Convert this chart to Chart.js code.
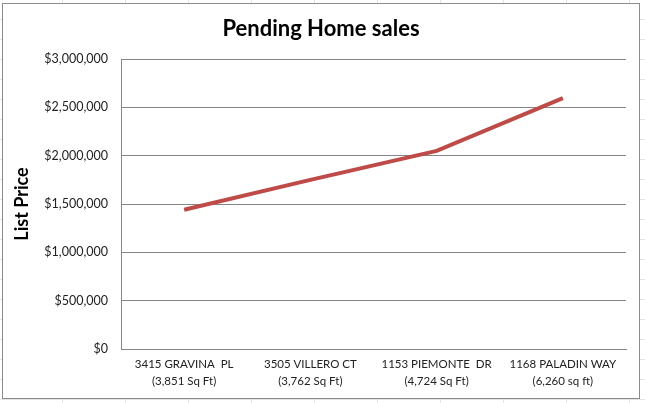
<!DOCTYPE html>
<html>
<head>
<meta charset="utf-8">
<script src="https://cdn.jsdelivr.net/npm/chart.js@4"></script>
<style>
  html, body { margin: 0; padding: 0; }
  body {
    width: 645px; height: 403px; overflow: hidden; position: relative;
    background-color: #fff;
    background-image:
      repeating-linear-gradient(to right, transparent 0 62px, #e2e4e6 62px 63px),
      repeating-linear-gradient(to bottom, transparent 0 19px, #e2e4e6 19px 20px);
  }
  #box {
    position: absolute; left: 2px; top: 3px; width: 636px; height: 394px;
    border: 1px solid #8c8c8c; background: #fff;
  }
  #box canvas { display: block; }
</style>
</head>
<body>
<div id="box"><canvas id="myChart" width="636" height="394"></canvas></div>
<script>
const titleText = 'Pending Home sales';
const yTitle = 'List Price';
const homes = [
  ['3415 GRAVINA  PL', '(3,851 Sq Ft)'],
  ['3505 VILLERO CT', '(3,762 Sq Ft)'],
  ['1153 PIEMONTE  DR', '(4,724 Sq Ft)'],
  ['1168 PALADIN WAY', '(6,260 sq ft)']
];
const listPrices = [1440000, 1750000, 2050000, 2595000];
const yMin = 0;
const yMax = 3000000;
const yStep = 500000;

const fontFamily = 'Lato, "Open Sans", sans-serif';
const gridColor = '#868686';

const main = () => {
  const datasets = [];
  datasets.push({
    label: 'List Price',
    data: listPrices,
    borderColor: '#BE4B48',
    backgroundColor: '#BE4B48',
    borderWidth: 4,
    pointRadius: 0,
    tension: 0,
    fill: false,
  });

  const config = {
    type: 'line',
    data: {
      labels: homes,
      datasets,
    },
    options: {
      responsive: false,
      animation: false,
      // equal side padding so the title sits centred in the box
      layout: { padding: { top: 0, right: 13, left: 13, bottom: 0 } },
      plugins: {
        legend: { display: false },
        tooltip: { enabled: false },
        title: {
          display: true,
          text: titleText,
          color: '#000',
          font: { family: fontFamily, size: 22, weight: 'bold', lineHeight: 1.2 },
          padding: { top: 12, bottom: 16.6 },
        },
      },
      scales: {
        x: {
          offset: true,
          grid: { display: false, drawTicks: false },
          border: { color: gridColor, width: 1 },
          ticks: {
            color: '#222',
            font: { family: fontFamily, size: 11.5, lineHeight: 1.55 },
            padding: 6,
            maxRotation: 0,
            autoSkip: false,
          },
          afterFit: function(scale) { scale.height = 49; },
        },
        y: {
          min: yMin,
          max: yMax,
          grid: { color: gridColor, drawTicks: false },
          border: { color: gridColor, width: 1 },
          ticks: {
            stepSize: yStep,
            color: '#222',
            padding: 13,
            font: { family: fontFamily, size: 12.5 },
            callback: function(value) {
              return '$' + value.toLocaleString('en-US');
            },
          },
          title: {
            display: true,
            text: yTitle,
            color: '#000',
            font: { family: fontFamily, size: 18, weight: 'bold' },
            padding: { top: -5, bottom: 0 },
          },
          afterFit: function(scale) { scale.width = 105; },
        },
      },
    },
  };

  const ctx = document.getElementById('myChart').getContext('2d');
  const myChart = new Chart(ctx, config);
};

main();
</script>
</body>
</html>
